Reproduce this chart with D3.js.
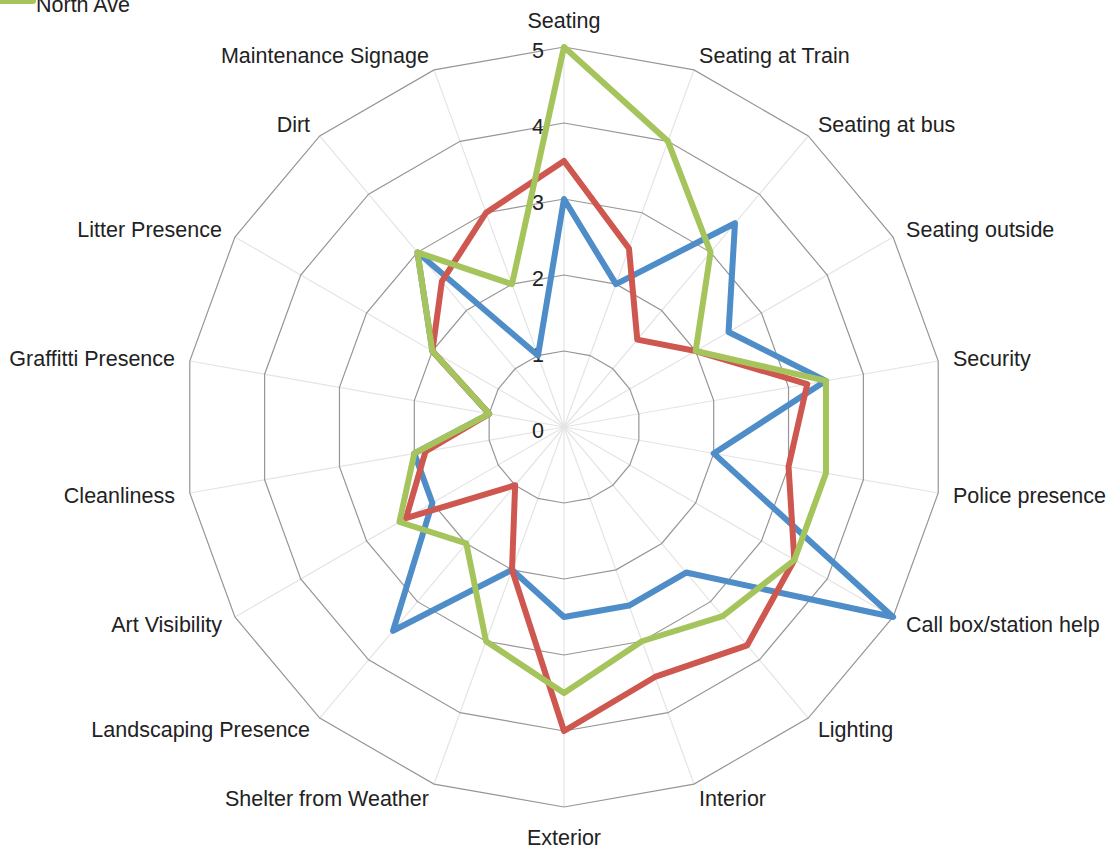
<!DOCTYPE html>
<html>
<head>
<meta charset="utf-8">
<script src="https://cdn.jsdelivr.net/npm/d3@7"></script>
<style>
  body { margin: 0; background: #fff; }
  svg { display: block; font-family: "Liberation Sans", Arial, sans-serif; }
</style>
</head>
<body>
<div id="chart"></div>
<script>
// categories, clockwise from the top
const categories = [
  "Seating", "Seating at Train", "Seating at bus", "Seating outside", "Security",
  "Police presence", "Call box/station help", "Lighting", "Interior", "Exterior",
  "Shelter from Weather", "Landscaping Presence", "Art Visibility", "Cleanliness",
  "Graffitti Presence", "Litter Presence", "Dirt", "Maintenance Signage"
];

const seriesNames = ["Midtown", "Arts Center", "North Ave"];
const blueValues  = [3, 2, 3.5, 2.5, 3.5, 2, 5, 2.5, 2.5, 2.5, 2, 3.5, 2, 2, 1, 2, 3, 1];
const redValues   = [3.5, 2.5, 1.5, 2, 3.25, 3, 3.5, 3.75, 3.5, 4, 2, 1, 2.4, 1.85, 1, 2, 2.5, 3];
const greenValues = [5, 4, 3, 2, 3.5, 3.5, 3.5, 3.25, 3, 3.5, 3, 2, 2.5, 2, 1, 2, 3, 2];
const tickValues  = [0, 1, 2, 3, 4, 5];

const colors = ["#4E8DC8", "#CE5750", "#A6C45C"];

const width = 1110, height = 850;
const cx = 564, cy = 427, radius = 380;
const fontSize = 21.5;

const svg = d3.select("#chart").append("svg")
  .attr("width", width)
  .attr("height", height);

const r = d3.scaleLinear().domain([0, 5]).range([0, radius]);
const step = 2 * Math.PI / categories.length;
const ang = c => categories.indexOf(c) * step;

function pt(a, rr) {
  return [cx + rr * Math.sin(a), cy - rr * Math.cos(a)];
}

const g = svg.append("g");

// spokes
g.selectAll("line.spoke")
  .data(categories)
  .enter().append("line")
  .attr("class", "spoke")
  .attr("x1", cx).attr("y1", cy)
  .attr("x2", d => pt(ang(d), r(5))[0])
  .attr("y2", d => pt(ang(d), r(5))[1])
  .attr("stroke", "#e4e4e4")
  .attr("stroke-width", 1.2);

// rings
g.selectAll("polygon.ring")
  .data(tickValues.filter(v => v > 0))
  .enter().append("polygon")
  .attr("class", "ring")
  .attr("points", v => categories.map(c => pt(ang(c), r(v)).join(",")).join(" "))
  .attr("fill", "none")
  .attr("stroke", "#969696")
  .attr("stroke-width", 1.2);

// series
const allSeries = [blueValues, redValues, greenValues];
const line = d3.lineRadial()
  .angle((d, i) => i * step)
  .radius(d => r(d))
  .curve(d3.curveLinearClosed);

svg.append("g")
  .attr("transform", `translate(${cx},${cy})`)
  .selectAll("path")
  .data(allSeries)
  .enter().append("path")
  .attr("d", d => line(d))
  .attr("fill", "none")
  .attr("stroke", (d, i) => colors[i])
  .attr("stroke-width", 6)
  .attr("stroke-linejoin", "round");

// tick labels
g.selectAll("text.tick")
  .data(tickValues)
  .enter().append("text")
  .attr("class", "tick")
  .attr("x", cx - 20)
  .attr("y", v => cy - r(v) + 3)
  .attr("dy", "0.35em")
  .attr("text-anchor", "end")
  .attr("font-size", fontSize)
  .attr("fill", "#222")
  .text(v => v);

// category labels
g.selectAll("text.cat")
  .data(categories)
  .enter().append("text")
  .attr("class", "cat")
  .each(function(c) {
    const a = ang(c);
    const s = Math.sin(a), co = Math.cos(a);
    const p = pt(a, radius + 15);
    let anchor = s > 0.01 ? "start" : (s < -0.01 ? "end" : "middle");
    let y = p[1];
    if (Math.abs(s) < 0.01) y += co > 0 ? -12 : 15;
    d3.select(this)
      .attr("x", p[0])
      .attr("y", y)
      .attr("dy", "0.35em")
      .attr("text-anchor", anchor);
  })
  .attr("font-size", fontSize)
  .attr("fill", "#222")
  .text(c => c);

// legend (top left, mostly clipped by the page edge)
const legend = svg.append("g").attr("class", "legend");
const legendItems = legend.selectAll("g")
  .data(seriesNames)
  .enter().append("g")
  .attr("transform", (d, i) => `translate(0,${1 - (seriesNames.length - 1 - i) * 28})`);
legendItems.append("line")
  .attr("x1", -2).attr("x2", 33)
  .attr("y1", 0).attr("y2", 0)
  .attr("stroke", (d, i) => colors[i])
  .attr("stroke-width", 6)
  .attr("stroke-linecap", "round");
legendItems.append("text")
  .attr("x", 36)
  .attr("y", 11)
  .attr("font-size", fontSize)
  .attr("fill", "#222")
  .text(d => d);
</script>
</body>
</html>
